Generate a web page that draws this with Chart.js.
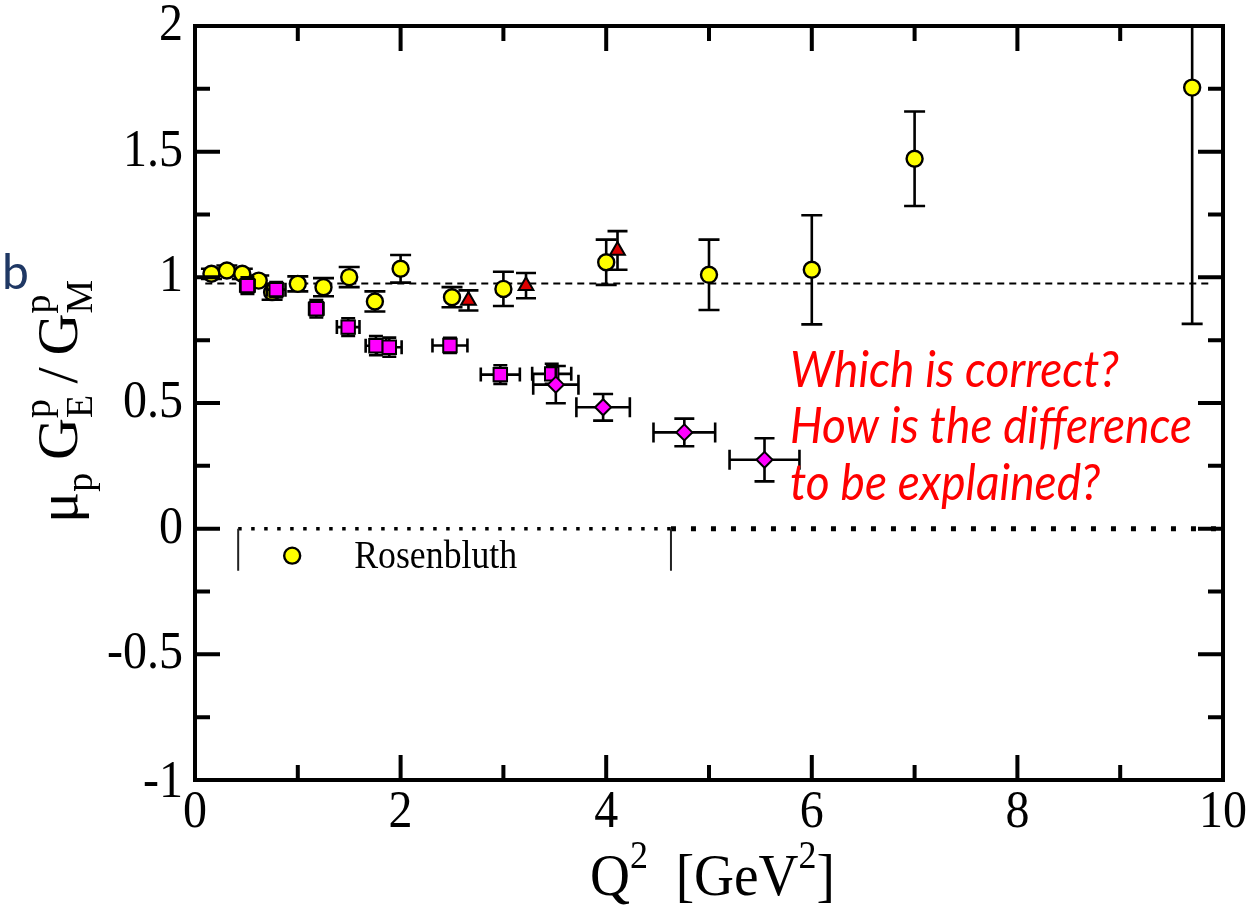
<!DOCTYPE html>
<html><head><meta charset="utf-8">
<script src="https://cdn.jsdelivr.net/npm/chart.js@4.4.1/dist/chart.umd.min.js"></script>
<style>html,body{margin:0;padding:0;background:#fff;}#wrap{width:1255px;height:909px;position:relative}</style>
</head><body><div id="wrap"><canvas id="c" width="1255" height="909"></canvas></div>
<script>
// ---- data ----
const rosenQ2  = [0.16,0.31,0.46,0.62,0.75,1.00,1.25,1.50,1.75,2.00,2.50,3.00,4.00,5.00,6.00,7.00,9.70];
const rosenR   = [1.014,1.027,1.014,0.987,0.941,0.974,0.961,1.001,0.904,1.034,0.921,0.954,1.060,1.010,1.030,1.472,1.755];
const rosenErr = [0.02,0.02,0.02,0.02,0.03,0.03,0.036,0.04,0.04,0.055,0.04,0.068,0.09,0.14,0.217,0.188,0.94];

const triQ2  = [2.66,3.22,4.11];
const triR   = [0.908,0.967,1.107];
const triErr = [0.04,0.05,0.077];

const sqQ2    = [0.51,0.79,1.18,1.49,1.76,1.89,2.48,2.97,3.47];
const sqR     = [0.967,0.951,0.875,0.802,0.728,0.722,0.729,0.613,0.616];
const sqQ2Err = [0.07,0.09,0.07,0.11,0.10,0.12,0.17,0.19,0.19];
const sqRErr  = [0.033,0.03,0.035,0.035,0.038,0.038,0.03,0.037,0.04];

const dmQ2    = [3.51,3.97,4.76,5.54];
const dmR     = [0.573,0.483,0.383,0.274];
const dmQ2Err = [0.22,0.26,0.30,0.34];
const dmRErr  = [0.074,0.053,0.055,0.086];

const refLineY  = [0.975, 0.975];
const refLineX  = [0.10, 9.86];
const zeroLineY = [0, 0];
const zeroLineXA = [0.42, 4.63];
const zeroLineXB = [4.63, 10];

const xTickValues = [0,2,4,6,8,10];
const xTickLabels = ['0','2','4','6','8','10'];
const yTickValues = [-1,-0.5,0,0.5,1,1.5,2];
const yTickLabels = ['-1','-0.5','0','0.5','1','1.5','2'];

const legendLabel = 'Rosenbluth';
const noteLines = ['Which is correct?','How is the difference','to be explained?'];

// ---- helpers ----
const SERIF = 'Liberation Serif';
const pts = (xs, ys) => xs.map((x,i)=>({x:x, y:ys[i]}));

function layoutRich(ctx, items, size, family){
  let x=0, lastStart=0, lastW=0; const res=[];
  for (const it of items){
    const fs = size*(it.s||1);
    ctx.font = fs+'px '+family;
    const w = ctx.measureText(it.t).width;
    let start;
    if (it.stack){ start = lastStart; const end = Math.max(lastStart+lastW, start+w); x = end; lastW = end-start; }
    else { start = x + (it.gap||0)*size; x = start + w; lastStart = start; lastW = w; }
    res.push({t:it.t, fs:fs, x:start, dy:(it.dy||0)*size});
  }
  return {items:res, width:x};
}
function drawRich(ctx, lay, family){
  for (const it of lay.items){ ctx.font = it.fs+'px '+family; ctx.fillText(it.t, it.x, it.dy); }
}

const errorBarPlugin = {
  id:'errbars',
  beforeDatasetDraw(chart, args){
    const ds = chart.data.datasets[args.index];
    if (!ds.errY && !ds.errX) return;
    const ctx = chart.ctx, xs = chart.scales.x, ys = chart.scales.y, ca = chart.chartArea;
    ctx.save();
    ctx.beginPath(); ctx.rect(ca.left, ca.top, ca.right-ca.left, ca.bottom-ca.top); ctx.clip();
    ctx.strokeStyle = '#000'; ctx.lineWidth = 2.6; ctx.lineCap = 'butt';
    const cap = ds.capHalf || 10;
    ds.data.forEach((p,i)=>{
      const px = xs.getPixelForValue(p.x), py = ys.getPixelForValue(p.y);
      ctx.beginPath();
      if (ds.errY){
        const e = ds.errY[i];
        const y1 = ys.getPixelForValue(p.y+e), y2 = ys.getPixelForValue(p.y-e);
        ctx.moveTo(px,y1); ctx.lineTo(px,y2);
        ctx.moveTo(px-cap,y1); ctx.lineTo(px+cap,y1);
        ctx.moveTo(px-cap,y2); ctx.lineTo(px+cap,y2);
      }
      if (ds.errX){
        const e = ds.errX[i];
        const x1 = xs.getPixelForValue(p.x-e), x2 = xs.getPixelForValue(p.x+e);
        ctx.moveTo(x1,py); ctx.lineTo(x2,py);
        ctx.moveTo(x1,py-cap); ctx.lineTo(x1,py+cap);
        ctx.moveTo(x2,py-cap); ctx.lineTo(x2,py+cap);
      }
      ctx.stroke();
    });
    ctx.restore();
  }
};

const decorPlugin = {
  id:'decor',
  afterDatasetsDraw(chart){
    const ctx = chart.ctx, xs = chart.scales.x, ys = chart.scales.y, ca = chart.chartArea;
    ctx.save();
    ctx.textBaseline = 'alphabetic'; ctx.textAlign = 'left';
    // legend box (open at the bottom) under the zero line
    const y0 = ys.getPixelForValue(0);
    const lx1 = xs.getPixelForValue(zeroLineXA[0]), lx2 = xs.getPixelForValue(zeroLineXA[1]);
    ctx.strokeStyle = '#222'; ctx.lineWidth = 2;
    ctx.beginPath();
    ctx.moveTo(lx1, y0); ctx.lineTo(lx1, y0+42);
    ctx.moveTo(lx2, y0); ctx.lineTo(lx2, y0+42);
    ctx.stroke();
    ctx.beginPath(); ctx.arc(lx1+54, y0+27, 8, 0, Math.PI*2);
    ctx.fillStyle = '#ffff00'; ctx.fill(); ctx.lineWidth = 2.4; ctx.strokeStyle = '#000'; ctx.stroke();
    ctx.fillStyle = '#000';
    ctx.font = '36px '+SERIF;
    const lw = ctx.measureText(legendLabel).width;
    ctx.save(); ctx.translate(lx1+116, y0+39); ctx.scale(163/lw, 1.1); ctx.fillText(legendLabel, 0, 0); ctx.restore();

    // frame
    ctx.strokeStyle = '#000'; ctx.lineWidth = 4; ctx.lineCap = 'butt';
    ctx.strokeRect(ca.left, ca.top, ca.right-ca.left, ca.bottom-ca.top);
    // inward ticks on all four sides
    ctx.beginPath();
    for (let k=1;k<12;k++){
      const v = -1 + k*0.25; const py = ys.getPixelForValue(v);
      const L = (k%2===0) ? 25 : 15;
      ctx.moveTo(ca.left, py); ctx.lineTo(ca.left+L, py);
      ctx.moveTo(ca.right, py); ctx.lineTo(ca.right-L, py);
    }
    for (let k=1;k<10;k++){
      const px = xs.getPixelForValue(k);
      const L = (k%2===0) ? 25 : 15;
      ctx.moveTo(px, ca.bottom); ctx.lineTo(px, ca.bottom-L);
      ctx.moveTo(px, ca.top); ctx.lineTo(px, ca.top+L);
    }
    ctx.stroke();

    // tick labels in serif, at the library's tick positions
    ctx.fillStyle = '#000';
    ctx.font = '48px '+SERIF;
    ctx.textBaseline = 'middle';
    ctx.textAlign = 'right';
    ys.ticks.forEach((t,i)=>{
      const py = ys.getPixelForValue(t.value) + (i===0 ? 3 : 0);
      ctx.save(); ctx.translate(ca.left-12, py); ctx.scale(1, 1.1); ctx.fillText(yTickLabels[i], 0, 0); ctx.restore();
    });
    ctx.textAlign = 'center';
    xs.ticks.forEach((t,i)=>{
      const px = xs.getPixelForValue(t.value);
      ctx.save(); ctx.translate(px, ca.bottom+33); ctx.scale(1, 1.1); ctx.fillText(xTickLabels[i], 0, 0); ctx.restore();
    });
    ctx.textBaseline = 'alphabetic'; ctx.textAlign = 'left';

    // y axis title (rotated, with sub/superscripts)
    const yItems = [
      {t:'\u03bc'},{t:'p',s:0.65,dy:0.25},
      {t:'G',gap:0.22},{t:'E',s:0.65,dy:0.25},{t:'p',s:0.65,dy:-0.47,stack:true},
      {t:'/',gap:0.2},
      {t:'G',gap:0.2},{t:'M',s:0.65,dy:0.25},{t:'p',s:0.65,dy:-0.47,stack:true}
    ];
    const yl = layoutRich(ctx, yItems, 58, SERIF);
    ctx.save(); ctx.translate(77, 523); ctx.rotate(-Math.PI/2); ctx.scale(243/yl.width, 1);
    drawRich(ctx, yl, SERIF); ctx.restore();

    // x axis title
    const xItems = [
      {t:'Q'},{t:'2',s:0.65,dy:-0.45},
      {t:'[',gap:0.5},{t:'GeV'},{t:'2',s:0.65,dy:-0.45},{t:']'}
    ];
    const xl = layoutRich(ctx, xItems, 50, SERIF);
    ctx.save(); ctx.translate(590, 895); ctx.scale(245/xl.width, 1.2);
    drawRich(ctx, xl, SERIF); ctx.restore();

    // red note
    ctx.fillStyle = '#ff0000';
    ctx.font = 'italic 40px Lato, sans-serif';
    const w2 = ctx.measureText(noteLines[1]).width;
    const fs = 40*402/w2;
    ctx.font = 'italic '+fs.toFixed(2)+'px Lato, sans-serif';
    const base = [387, 443, 500];
    noteLines.forEach((t,i)=>{
      ctx.save(); ctx.translate(790, base[i]); ctx.scale(1, 1.1); ctx.fillText(t, 0, 0); ctx.restore();
    });

    // panel letter
    ctx.fillStyle = '#1f3864';
    ctx.font = '48px Lato, sans-serif';
    ctx.fillText('b', 2, 289);
    ctx.restore();
  }
};

new Chart(document.getElementById('c'), {
  type:'scatter',
  data:{ datasets:[
    {label:'diamonds', data:pts(dmQ2, dmR), errX:dmQ2Err, errY:dmRErr, capHalf:10,
     pointStyle:'rectRot', pointRadius:8, backgroundColor:'#ff00ff', borderColor:'#000', borderWidth:2},
    {label:'triangles', data:pts(triQ2, triR), errY:triErr, capHalf:10,
     pointStyle:'triangle', pointRadius:8.5, backgroundColor:'#dd0000', borderColor:'#000', borderWidth:2},
    {label:'squares', data:pts(sqQ2, sqR), errX:sqQ2Err, errY:sqRErr, capHalf:7,
     pointStyle:'rect', pointRadius:9.5, backgroundColor:'#ff00ff', borderColor:'#000', borderWidth:2},
    {label:legendLabel, data:pts(rosenQ2, rosenR), errY:rosenErr, capHalf:10.5,
     pointStyle:'circle', pointRadius:8, backgroundColor:'#ffff00', borderColor:'#000', borderWidth:2.4},
    {label:'ref', data:pts(refLineX, refLineY), showLine:true, pointRadius:0, borderColor:'#000', borderWidth:2, borderDash:[7,5], fill:false},
    {label:'zeroA', data:pts(zeroLineXA, zeroLineY), showLine:true, pointRadius:0, borderColor:'#000', borderWidth:3.5, borderDash:[3.5,9.5], fill:false},
    {label:'zeroB', data:pts(zeroLineXB, zeroLineY), showLine:true, pointRadius:0, borderColor:'#000', borderWidth:5, borderDash:[5,15], fill:false}
  ]},
  options:{
    responsive:false, animation:false, events:[],
    layout:{padding:{top:26, right:32, left:0, bottom:0}},
    plugins:{legend:{display:false}, tooltip:{enabled:false}},
    scales:{
      x:{type:'linear', min:0, max:10,
         afterBuildTicks:s=>{ s.ticks = xTickValues.map(v=>({value:v})); },
         afterFit:s=>{ s.height = 129; s.paddingLeft = 0; s.paddingRight = 0; },
         ticks:{callback:(v,i)=>xTickLabels[i], font:{family:SERIF, size:45}, color:'rgba(0,0,0,0)', padding:5, maxRotation:0, autoSkip:false},
         grid:{display:false, drawTicks:false}, border:{display:false}},
      y:{type:'linear', min:-1, max:2,
         afterBuildTicks:s=>{ s.ticks = yTickValues.map(v=>({value:v})); },
         afterFit:s=>{ s.width = 195; s.paddingTop = 0; s.paddingBottom = 0; },
         ticks:{callback:(v,i)=>yTickLabels[i], font:{family:SERIF, size:45}, color:'rgba(0,0,0,0)', padding:12, autoSkip:false},
         grid:{display:false, drawTicks:false}, border:{display:false}}
    }
  },
  plugins:[errorBarPlugin, decorPlugin]
});
</script></body></html>
